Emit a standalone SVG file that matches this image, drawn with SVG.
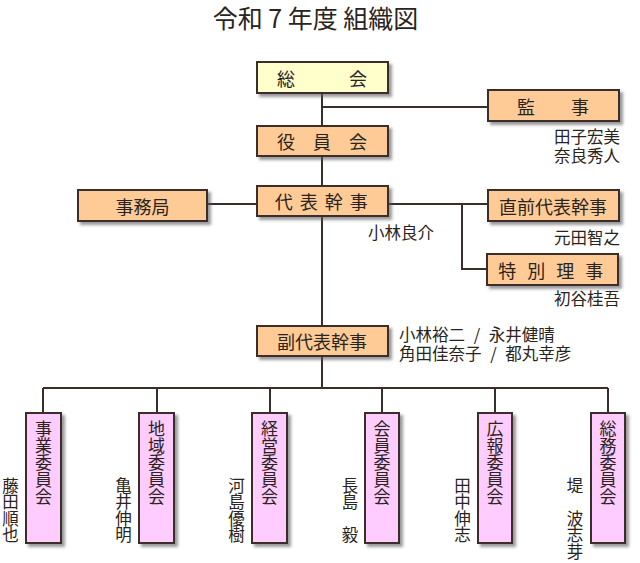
<svg xmlns="http://www.w3.org/2000/svg" width="640" height="563" viewBox="0 0 640 563">
<style>
text{font-family:"Noto Sans CJK JP","Noto Sans CJK SC",sans-serif;fill:#2a2421}
.lb,.nm{dominant-baseline:central}
.lb{font-size:18px;text-anchor:middle}
.nm{font-size:16.5px}
.vt{font-size:17px;writing-mode:vertical-rl}
.vn{font-size:16.5px;writing-mode:vertical-rl}
.box{stroke:#3b2e2a;stroke-width:2;filter:url(#sh)}
.y{fill:#ffffcc}.o{fill:#fecb96}.p{fill:#ffccff}
.ln{stroke:#3b2e2a;stroke-width:2;fill:none}
</style>
<defs>
<filter id="sh" x="-20%" y="-20%" width="150%" height="150%">
<feDropShadow dx="3" dy="3" stdDeviation="1.5" flood-color="#555" flood-opacity="0.6"/>
</filter>
</defs>
<rect width="640" height="563" fill="#fff"/>
<text x="315.5" y="16.5" style="font-size:25px;text-anchor:middle;dominant-baseline:central">令和 7 年度 組織図</text>
<g id="connectors">
<path class="ln" d="M322,93V388"/>
<path class="ln" d="M322,107H488"/>
<path class="ln" d="M207,204H257"/>
<path class="ln" d="M388,204H488"/>
<path class="ln" d="M462,204V269H487"/>
<path class="ln" d="M43,388H608"/>
<path class="ln" d="M43,388V413M157,388V413M270,388V413M382,388V413M495,388V413M608,388V413"/>
</g>
<g id="sokai"><rect class="box y" x="257" y="62" width="131" height="31"/><text class="lb" x="322" y="77.5">総　　　会</text></g>
<g id="kanji"><rect class="box o" x="488" y="90" width="131" height="31"/><text class="lb" x="553" y="105.5">監　　事</text>
<text class="nm" text-anchor="end"><tspan x="620" y="136">田子宏美</tspan><tspan x="620" y="155">奈良秀人</tspan></text></g>
<g id="yakuinkai"><rect class="box o" x="257" y="126" width="131" height="30"/><text class="lb" x="322" y="141">役　員　会</text></g>
<g id="daihyo"><rect class="box o" x="257" y="186" width="131" height="30"/><text class="lb" x="322" y="201" style="letter-spacing:1.5px">代 表 幹 事</text>
<text class="nm" x="368" y="232">小林良介</text></g>
<g id="jimukyoku"><rect class="box o" x="78" y="190" width="129" height="31"/><text class="lb" x="142.5" y="205.5">事務局</text></g>
<g id="chokuzen"><rect class="box o" x="488" y="190" width="131" height="31"/><text class="lb" x="553" y="205.5">直前代表幹事</text>
<text class="nm" x="620" y="237" text-anchor="end">元田智之</text></g>
<g id="tokubetsu"><rect class="box o" x="487" y="254" width="131" height="31"/><text class="lb" x="552.5" y="269.5" style="letter-spacing:3.5px">特 別 理 事</text>
<text class="nm" x="620" y="298" text-anchor="end">初谷桂吾</text></g>
<g id="fukudaihyo"><rect class="box o" x="257" y="326" width="131" height="30"/><text class="lb" x="322" y="341">副代表幹事</text>
<text class="nm" style="word-spacing:5px"><tspan x="399" y="334">小林裕二 / 永井健晴</tspan><tspan x="399" y="353">角田佳奈子 / 都丸幸彦</tspan></text></g>
<g id="jigyo"><rect class="box p" x="26" y="413" width="35" height="130"/>
<text class="vt" x="43.5" y="420">事業委員会</text><text class="vn" x="10.5" y="477">藤田順也</text></g>
<g id="chiiki"><rect class="box p" x="139" y="413" width="35" height="130"/>
<text class="vt" x="156.5" y="420">地域委員会</text><text class="vn" x="123.5" y="477">亀井伸明</text></g>
<g id="keiei"><rect class="box p" x="252" y="413" width="35" height="130"/>
<text class="vt" x="269.5" y="420">経営委員会</text><text class="vn" x="236.5" y="477">河島優樹</text></g>
<g id="kaiin"><rect class="box p" x="365" y="413" width="34" height="130"/>
<text class="vt" x="382" y="420">会員委員会</text><text class="vn" x="350" y="477">長島　毅</text></g>
<g id="koho"><rect class="box p" x="478" y="413" width="34" height="130"/>
<text class="vt" x="495" y="420">広報委員会</text><text class="vn" x="462.5" y="477">田中伸志</text></g>
<g id="somu"><rect class="box p" x="591" y="413" width="34" height="130"/>
<text class="vt" x="608" y="420">総務委員会</text><text class="vn" x="575" y="477">堤　波志芽</text></g>
</svg>
